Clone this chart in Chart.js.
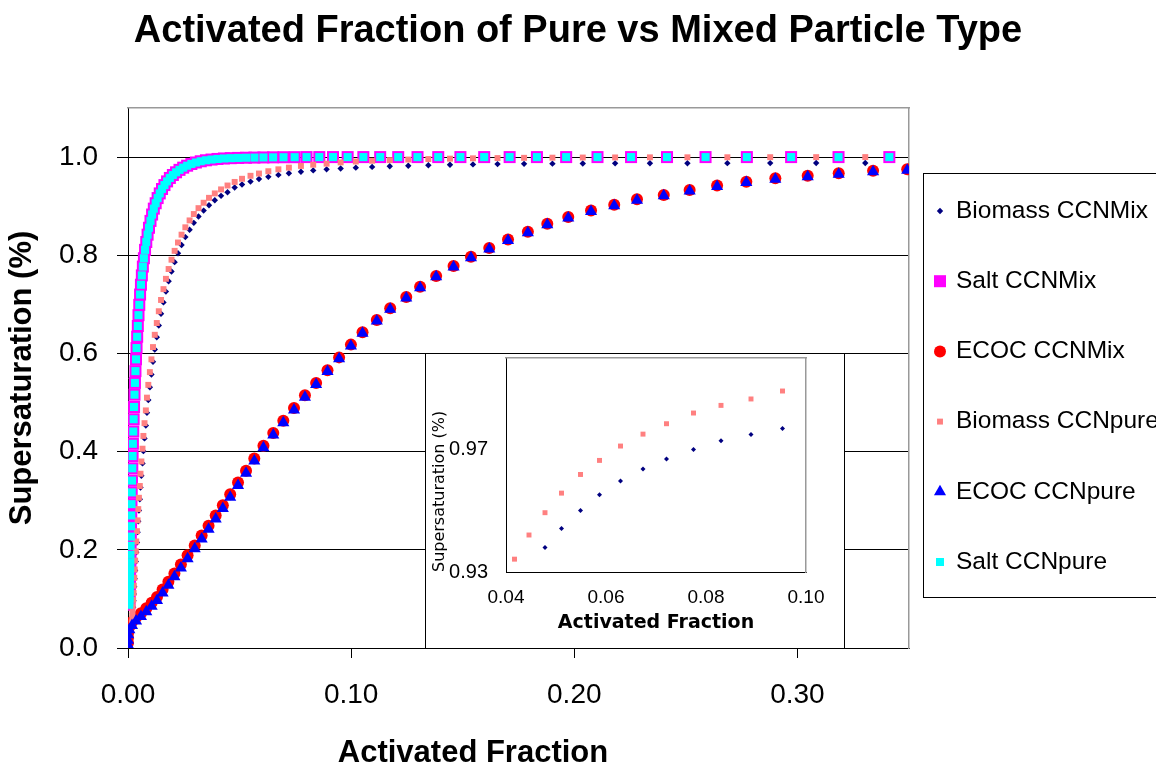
<!DOCTYPE html>
<html lang="en">
<head>
<meta charset="UTF-8">
<title>Activated Fraction of Pure vs Mixed Particle Type</title>
<script src="https://cdn.jsdelivr.net/npm/chart.js"></script>
<style>
    html, body { margin: 0; padding: 0; background: #fff; overflow: hidden; }
    #wrap { position: relative; width: 1156px; height: 768px; }
    #mainChart { position: absolute; left: 0; top: 0; }
    #inset {
        position: absolute; left: 425px; top: 353px;
        width: 418px; height: 294px;
        background: #fff; border: 1px solid #000; border-bottom: none;
    }
    #inset canvas { display: block; }
</style>
</head>
<body>
<div id="wrap">
    <canvas id="mainChart" width="1156" height="768"></canvas>
    <div id="inset"><canvas id="insetChart" width="418" height="294"></canvas></div>
</div>
<script>
const chartTitle = 'Activated Fraction of Pure vs Mixed Particle Type';
const seriesNames = ['Biomass CCNMix', 'Salt CCNMix', 'ECOC CCNMix', 'Biomass CCNpure', 'ECOC CCNpure', 'Salt CCNpure'];

// tick labels
const mainXTicks = [0, 0.1, 0.2, 0.3];
const mainYTicks = [0, 0.2, 0.4, 0.6, 0.8, 1.0];
const insetXTicks = [0.04, 0.06, 0.08, 0.10];
const insetYTicks = [0.93, 0.97];

// Salt (pure and mix lie on top of each other)
const saltX = [0.00051, 0.00055, 0.00059, 0.00063, 0.00068, 0.00073, 0.00078, 0.00084, 0.00090, 0.00096,
    0.00103, 0.00110, 0.00118, 0.00127, 0.00136, 0.00146, 0.00156, 0.00167, 0.00179, 0.00192,
    0.00206, 0.00220, 0.00236, 0.00253, 0.00271, 0.00291, 0.00311, 0.00334, 0.00358, 0.00383,
    0.00411, 0.00440, 0.00471, 0.00505, 0.00541, 0.00580, 0.00621, 0.00666, 0.00713, 0.00764,
    0.00819, 0.00878, 0.00940, 0.01008, 0.01080, 0.01157, 0.01240, 0.01328, 0.01423, 0.01525,
    0.01634, 0.01751, 0.01876, 0.02011, 0.02154, 0.02308, 0.02473, 0.02650, 0.02840, 0.03043,
    0.03260, 0.03493, 0.03743, 0.04011, 0.04298, 0.04605, 0.04934, 0.05287, 0.05665, 0.0607,
    0.06504, 0.06969, 0.07467, 0.08001, 0.08573, 0.09186, 0.09843, 0.10547, 0.11301, 0.12109,
    0.12975, 0.13903, 0.14897, 0.15962, 0.17103, 0.18326, 0.19636, 0.21040, 0.22544, 0.24156,
    0.25883, 0.27734, 0.29717, 0.31842, 0.34119];
const saltPureY = [0.088, 0.092, 0.097, 0.103, 0.110, 0.118, 0.127, 0.137, 0.148, 0.160,
    0.174, 0.190, 0.208, 0.227, 0.248, 0.270, 0.293, 0.317, 0.341, 0.366,
    0.391, 0.416, 0.441, 0.466, 0.491, 0.516, 0.540, 0.564, 0.588, 0.611,
    0.634, 0.656, 0.678, 0.699, 0.720, 0.740, 0.759, 0.777, 0.794, 0.811,
    0.827, 0.842, 0.856, 0.870, 0.883, 0.895, 0.906, 0.9165, 0.926, 0.935,
    0.943, 0.9505, 0.9575, 0.9635, 0.969, 0.974, 0.9785, 0.9825, 0.986, 0.989,
    0.9915, 0.9935, 0.995, 0.9962, 0.9972, 0.9978, 0.9983, 0.9987, 0.999, 0.9993,
    0.9995, 0.9997, 0.9998, 1.0, 1.0, 1.0, 1.0, 1.0, 1.0, 1.0,
    1.0, 1.0, 1.0, 1.0, 1.0, 1.0, 1.0, 1.0, 1.0, 1.0,
    1.0, 1.0, 1.0, 1.0, 1.0];
const saltMixY = [0.088, 0.092, 0.097, 0.103, 0.110, 0.118, 0.127, 0.137, 0.148, 0.160,
    0.174, 0.190, 0.208, 0.227, 0.248, 0.270, 0.293, 0.317, 0.341, 0.366,
    0.391, 0.416, 0.441, 0.466, 0.491, 0.516, 0.540, 0.564, 0.588, 0.611,
    0.634, 0.656, 0.678, 0.699, 0.720, 0.740, 0.759, 0.777, 0.794, 0.811,
    0.827, 0.842, 0.856, 0.870, 0.883, 0.895, 0.906, 0.9165, 0.926, 0.935,
    0.943, 0.9505, 0.9575, 0.9635, 0.969, 0.974, 0.9785, 0.9825, 0.986, 0.989,
    0.9915, 0.9935, 0.995, 0.9962, 0.9972, 0.9978, 0.9983, 0.9987, 0.999, 0.9993,
    0.9995, 0.9997, 0.9998, 1.0, 1.0, 1.0, 1.0, 1.0, 1.0, 1.0,
    1.0, 1.0, 1.0, 1.0, 1.0, 1.0, 1.0, 1.0, 1.0, 1.0,
    1.0, 1.0, 1.0, 1.0, 1.0];

// Biomass
const bioX = [0.0017, 0.0019, 0.0020, 0.0021, 0.0023, 0.0025, 0.0026, 0.0028, 0.0030, 0.0032,
    0.0035, 0.0037, 0.0040, 0.0043, 0.0046, 0.0049, 0.0053, 0.0056, 0.0060, 0.0065,
    0.0069, 0.0074, 0.0080, 0.0085, 0.0091, 0.0098, 0.0105, 0.0112, 0.0120, 0.0129,
    0.0138, 0.0148, 0.0159, 0.0170, 0.0182, 0.0195, 0.0209, 0.0224, 0.0240, 0.0257,
    0.0276, 0.0295, 0.0316, 0.0339, 0.0363, 0.0389, 0.0417, 0.0446, 0.0478, 0.0511,
    0.0549, 0.0587, 0.0629, 0.0674, 0.0721, 0.0775, 0.0830, 0.0890, 0.0953, 0.1021,
    0.1094, 0.1173, 0.1256, 0.1346, 0.1443, 0.1546, 0.1656, 0.1775, 0.1902, 0.2038,
    0.2183, 0.2339, 0.2507, 0.2686, 0.2878, 0.3084, 0.3304];
const bioPureY = [0.052, 0.062, 0.073, 0.085, 0.098, 0.112, 0.127, 0.143, 0.160, 0.178,
    0.197, 0.217, 0.238, 0.260, 0.283, 0.306, 0.330, 0.355, 0.380, 0.406,
    0.432, 0.458, 0.484, 0.510, 0.536, 0.562, 0.588, 0.613, 0.638, 0.662,
    0.686, 0.709, 0.731, 0.752, 0.772, 0.791, 0.809, 0.826, 0.842, 0.857,
    0.871, 0.884, 0.896, 0.907, 0.917, 0.926, 0.9342, 0.9421, 0.9494, 0.9558,
    0.9619, 0.9665, 0.9712, 0.9751, 0.9785, 0.9820, 0.9845, 0.9866, 0.9892, 0.9910,
    0.9925, 0.9938, 0.9950, 0.9960, 0.9968, 0.9975, 0.9980, 0.9985, 0.9988, 0.9991,
    0.9993, 0.9995, 0.9996, 0.9997, 0.9998, 0.9999, 1.0];
const bioMixY = [0.040, 0.050, 0.060, 0.071, 0.083, 0.096, 0.110, 0.125, 0.141, 0.158,
    0.176, 0.195, 0.215, 0.236, 0.258, 0.280, 0.303, 0.327, 0.351, 0.376,
    0.401, 0.427, 0.453, 0.479, 0.505, 0.531, 0.557, 0.583, 0.608, 0.633,
    0.657, 0.681, 0.704, 0.726, 0.747, 0.767, 0.786, 0.804, 0.821, 0.837,
    0.852, 0.866, 0.879, 0.891, 0.902, 0.912, 0.921, 0.9285, 0.9380, 0.9442,
    0.9501, 0.9553, 0.9598, 0.9637, 0.9670, 0.9701, 0.9729, 0.9750, 0.9769, 0.9785,
    0.9800, 0.9813, 0.9825, 0.9835, 0.9844, 0.9851, 0.9857, 0.9862, 0.9866, 0.9869,
    0.9872, 0.9874, 0.9876, 0.9877, 0.9878, 0.9879, 0.9880];

// ECOC
const ecocX = [0.0000, 0.0000, 0.0001, 0.0006, 0.0018, 0.0036, 0.0058, 0.0082, 0.0106, 0.0130,
    0.0155, 0.0181, 0.0208, 0.0237, 0.0267, 0.0299, 0.0330, 0.0361, 0.0393, 0.0425,
    0.0458, 0.0493, 0.0529, 0.0566, 0.0607, 0.0651, 0.0696, 0.0744, 0.0793, 0.0843,
    0.0894, 0.0946, 0.0999, 0.1051, 0.1115, 0.1175, 0.1247, 0.1309, 0.1381, 0.1459,
    0.1537, 0.1619, 0.1703, 0.1792, 0.1879, 0.1973, 0.2075, 0.2179, 0.2281, 0.2401,
    0.2517, 0.2640, 0.2771, 0.2901, 0.3046, 0.3185, 0.3339, 0.3492];
const ecocPureY = [0.006, 0.016, 0.027, 0.037, 0.046, 0.055, 0.064, 0.074, 0.085, 0.097,
    0.112, 0.128, 0.145, 0.163, 0.182, 0.202, 0.222, 0.242, 0.263, 0.284,
    0.307, 0.331, 0.356, 0.381, 0.408, 0.434, 0.459, 0.485, 0.511, 0.537,
    0.563, 0.589, 0.615, 0.641, 0.666, 0.690, 0.713, 0.734, 0.756, 0.776,
    0.795, 0.813, 0.830, 0.846, 0.862, 0.876, 0.889, 0.901, 0.912, 0.921,
    0.931, 0.940, 0.948, 0.955, 0.960, 0.965, 0.970, 0.973];
const ecocMixY = [0.010, 0.021, 0.032, 0.043, 0.053, 0.062, 0.071, 0.081, 0.092, 0.104,
    0.119, 0.135, 0.152, 0.170, 0.189, 0.209, 0.229, 0.249, 0.270, 0.291,
    0.313, 0.337, 0.361, 0.386, 0.412, 0.438, 0.463, 0.489, 0.515, 0.540,
    0.566, 0.592, 0.618, 0.643, 0.668, 0.692, 0.715, 0.736, 0.758, 0.778,
    0.797, 0.815, 0.832, 0.848, 0.864, 0.878, 0.891, 0.903, 0.914, 0.923,
    0.933, 0.942, 0.950, 0.957, 0.962, 0.967, 0.972, 0.975];

const FONT = "'Liberation Sans', Arial, sans-serif";

function pts(xs, ys) {
    return xs.map((x, i) => ({ x: x, y: ys[i] }));
}

// marker look per series, same order as seriesNames
const markers = [
    { shape: 'rectRot', r: 3.2, color: '#000080' },
    { shape: 'rect', r: 8.5, color: '#FF00FF' },
    { shape: 'circle', r: 6, color: '#FF0000' },
    { shape: 'rect', r: 4.2, color: '#FF8080' },
    { shape: 'triangle', r: 7, color: '#0000FF' },
    { shape: 'rect', r: 5.7, color: '#00FFFF' }
];
const mainData = [pts(bioX, bioMixY), pts(saltX, saltMixY), pts(ecocX, ecocMixY),
                  pts(bioX, bioPureY), pts(ecocX, ecocPureY), pts(saltX, saltPureY)];

const mainDatasets = seriesNames.map((name, i) => ({
    label: name,
    data: mainData[i],
    showLine: false,
    pointStyle: markers[i].shape,
    pointRadius: markers[i].r,
    pointHoverRadius: markers[i].r,
    pointBackgroundColor: markers[i].color,
    pointBorderColor: markers[i].color,
    pointBorderWidth: 0,
    order: seriesNames.length - i   // later series drawn on top, like Excel
}));

function drawMarker(ctx, m, x, y) {
    ctx.save();
    ctx.fillStyle = m.color;
    ctx.beginPath();
    if (m.shape === 'circle') {
        ctx.arc(x, y, m.r, 0, Math.PI * 2);
    } else if (m.shape === 'rect') {
        const s = m.r * Math.SQRT1_2;
        ctx.rect(x - s, y - s, 2 * s, 2 * s);
    } else if (m.shape === 'rectRot') {
        ctx.moveTo(x, y - m.r); ctx.lineTo(x + m.r, y);
        ctx.lineTo(x, y + m.r); ctx.lineTo(x - m.r, y);
        ctx.closePath();
    } else if (m.shape === 'triangle') {
        ctx.moveTo(x, y - m.r);
        ctx.lineTo(x + m.r * 0.866, y + m.r * 0.5);
        ctx.lineTo(x - m.r * 0.866, y + m.r * 0.5);
        ctx.closePath();
    }
    ctx.fill();
    ctx.restore();
}

// boxed legend on the right plus the x axis title
const extrasPlugin = {
    id: 'extras',
    afterDraw(chart) {
        const ctx = chart.ctx;
        ctx.save();
        ctx.strokeStyle = '#000';
        ctx.lineWidth = 1;
        ctx.strokeRect(923.5, 173.5, 300, 424);
        ctx.fillStyle = '#000';
        ctx.font = '24.5px ' + FONT;
        ctx.textAlign = 'left';
        ctx.textBaseline = 'middle';
        seriesNames.forEach((name, i) => {
            const y = 211 + i * 70.2;
            drawMarker(ctx, markers[i], 940, y);
            ctx.fillText(name, 956, y);
        });
        ctx.font = 'bold 31px ' + FONT;
        ctx.textAlign = 'center';
        ctx.fillText('Activated Fraction', 473, 753);
        ctx.restore();
    }
};

function frameAxis(pos, size) {
    return {
        type: 'linear',
        position: pos,
        ticks: { display: false },
        grid: { display: false },
        border: { color: '#999', width: 1.5 },
        afterFit: s => { if (pos === 'top') s.height = size; else s.width = size; }
    };
}

new Chart(document.getElementById('mainChart'), {
    type: 'scatter',
    data: { datasets: mainDatasets },
    options: {
        responsive: false,
        animation: false,
        layout: { padding: 0 },
        plugins: {
            legend: { display: false },
            tooltip: { enabled: false },
            title: {
                display: true,
                text: chartTitle,
                color: '#000',
                font: { family: FONT, size: 38, weight: 'bold' },
                padding: { top: 9, bottom: 53.4 }
            }
        },
        scales: {
            x: {
                type: 'linear',
                position: 'bottom',
                min: 0,
                max: 0.35,
                afterBuildTicks: s => { s.ticks = mainXTicks.map(v => ({ value: v })); },
                afterFit: s => { s.height = 120; s.paddingLeft = 0; s.paddingRight = 0; },
                ticks: {
                    callback: v => v.toFixed(2),
                    color: '#000',
                    font: { family: FONT, size: 28 },
                    padding: 20,
                    maxRotation: 0,
                    autoSkip: false
                },
                grid: { drawOnChartArea: false, drawTicks: true, tickLength: 10, color: '#000' },
                border: { color: '#000', width: 1 }
            },
            y: {
                type: 'linear',
                position: 'left',
                min: 0,
                max: 1.1,
                afterBuildTicks: s => { s.ticks = mainYTicks.map(v => ({ value: v })); },
                afterFit: s => { s.width = 128; s.paddingTop = 0; s.paddingBottom = 0; },
                ticks: {
                    callback: v => v.toFixed(1),
                    color: '#000',
                    font: { family: FONT, size: 28 },
                    padding: 19
                },
                grid: { color: '#000', lineWidth: 1, tickLength: 11 },
                border: { color: '#000', width: 1 },
                title: {
                    display: true,
                    text: 'Supersaturation (%)',
                    color: '#000',
                    font: { family: FONT, size: 31, weight: 'bold' },
                    padding: { top: 4, bottom: 0 }
                }
            },
            xTop: frameAxis('top', 0),
            yRight: frameAxis('right', 247)
        }
    },
    plugins: [extrasPlugin]
});

// inset: zoom on the two biomass series
const insetDatasets = [0, 3].map(i => ({
    label: seriesNames[i],
    data: mainData[i],
    showLine: false,
    clip: 0,
    pointStyle: markers[i].shape,
    pointRadius: i === 0 ? 2.5 : 3.5,
    pointBackgroundColor: markers[i].color,
    pointBorderWidth: 0
}));

new Chart(document.getElementById('insetChart'), {
    type: 'scatter',
    data: { datasets: insetDatasets },
    options: {
        responsive: false,
        animation: false,
        layout: { padding: 0 },
        plugins: { legend: { display: false }, tooltip: { enabled: false } },
        scales: {
            x: {
                type: 'linear',
                position: 'bottom',
                min: 0.04,
                max: 0.10,
                afterBuildTicks: s => { s.ticks = insetXTicks.map(v => ({ value: v })); },
                afterFit: s => { s.height = 76; s.paddingLeft = 0; s.paddingRight = 0; },
                ticks: {
                    callback: v => v.toFixed(2),
                    color: '#000',
                    font: { family: FONT, size: 19 },
                    padding: 14,
                    maxRotation: 0,
                    autoSkip: false
                },
                grid: { display: false, drawTicks: false },
                border: { color: '#000', width: 1 },
                title: {
                    display: true,
                    text: 'Activated Fraction',
                    color: '#000',
                    font: { family: "'DejaVu Sans', sans-serif", size: 19, weight: 'bold' },
                    padding: { top: 0, bottom: 14 }
                }
            },
            y: {
                type: 'linear',
                position: 'left',
                min: 0.93,
                max: 1.0,
                afterBuildTicks: s => { s.ticks = insetYTicks.map(v => ({ value: v })); },
                afterFit: s => { s.width = 80; s.paddingTop = 0; s.paddingBottom = 0; },
                ticks: {
                    callback: v => v.toFixed(2),
                    color: '#000',
                    font: { family: FONT, size: 20 },
                    padding: 18
                },
                grid: { display: false, drawTicks: false },
                border: { color: '#000', width: 1 },
                title: {
                    display: true,
                    text: 'Supersaturation (%)',
                    align: 'start',
                    color: '#000',
                    font: { family: "'DejaVu Sans', sans-serif", size: 16 },
                    padding: { top: 4, bottom: 0 }
                }
            },
            xTop: frameAxis('top', 2),
            yRight: frameAxis('right', 38)
        }
    }
});
</script>
</body>
</html>
